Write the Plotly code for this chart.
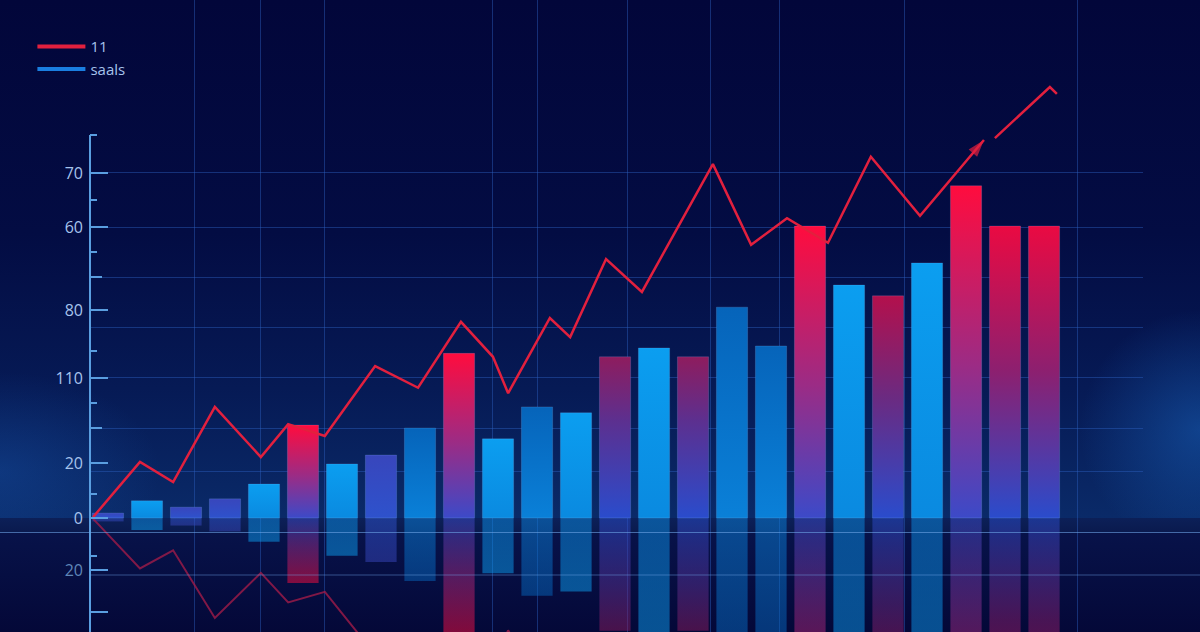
import plotly.graph_objects as go

# ---------------- data ----------------
PERIODS = list(range(1, 26))
SAALS = [1.0, 3.5, 2.2, 3.9, 6.9, 18.9, 11.0, 12.8, 18.3, 33.5, 16.1, 22.6, 21.4,
         32.8, 34.6, 32.8, 42.9, 35.0, 59.4, 47.4, 45.2, 51.9, 67.6, 59.4, 59.4]

LINE_X = [0.62, 1.82, 2.67, 3.74, 4.92, 5.62, 6.56, 7.85, 8.95, 10.05, 10.87, 11.26,
          12.33, 12.85, 13.77, 14.69, 16.51, 17.49, 18.41, 19.46, 20.56, 21.82, 23.46,
          None, 23.74, 25.15, 25.33]
LINE_Y = [0.2, 11.4, 7.3, 22.6, 12.4, 19.1, 16.7, 30.9, 26.5, 39.9, 32.8, 25.4,
          40.7, 36.8, 52.7, 46.0, 72.0, 55.6, 61.0, 56.0, 73.5, 61.5, 76.9,
          None, 77.3, 87.7, 86.3]

SERIES_NAMES = ["11", "saals"]

Y_TICK_VALUES = [70.2, 59.2, 42.3, 28.5, 11.2, 0.0, -10.6, -19.1]
Y_TICK_LABELS = ["70", "60", "80", "110", "20", "0", "20", ""]

# ---------------- styling ----------------
Y_GRID = [70.2, 59.2, 49.0, 38.7, 28.5, 18.3, 9.4]
Y_MED_TICKS = [49.0, 18.3]
Y_SHORT_TICKS = [64.7, 54.1, 34.0, 23.4, 4.9, -7.7]
X_GRID = [3.23, 4.90, 6.56, 10.87, 12.00, 14.33, 16.44, 18.21, 21.41, 25.85]
X_RANGE = [0.5385, 27.538]
Y_RANGE = [-23.2, 105.4]
BAR_W = 0.8
REFL = 0.7

TONES = ['violet', 'sky', 'violet', 'violet', 'sky', 'red', 'sky', 'violet', 'azure', 'red',
         'sky', 'azure', 'sky', 'magenta', 'sky', 'magenta', 'azure', 'azure', 'red', 'sky',
         'crimson', 'sky', 'red', 'red2', 'red2']
SCALES = {
    'violet': [[0, '#2e52cc'], [1, '#3846bc']],
    'sky': [[0, '#0a8ae0'], [1, '#0b9ef0']],
    'azure': [[0, '#0a80d8'], [1, '#0664ba']],
    'red': [[0, '#3c4ac8'], [0.45, '#9a2c86'], [1, '#ff0c3e']],
    'red2': [[0, '#2a4ccc'], [0.5, '#8c2070'], [1, '#ea0a42']],
    'magenta': [[0, '#2a4ccc'], [0.6, '#5c3090'], [1, '#8e1c5e']],
    'crimson': [[0, '#2a4ccc'], [0.55, '#6c2a80'], [1, '#b3104c']],
}
RED = '#e2203e'
BLUE = '#1a7ee0'
TICK_COL = '#5a9ee0'
GRID_COL = 'rgba(45,95,190,0.45)'
TXT_COL = '#a6c3ec'
FONT = 'Open Sans'

fig = go.Figure()

# ---------------- background (pixel-space subplot x/y) ----------------
def bg_rect(x0, x1, y0, y1, grad):
    fig.add_trace(go.Scatter(x=[x0, x1, x1, x0, x0], y=[y0, y0, y1, y1, y0], mode='lines',
                             line=dict(width=0), fill='toself', fillgradient=grad,
                             hoverinfo='skip', showlegend=False, xaxis='x', yaxis='y'))

bg_rect(0, 1200, 114, 632, dict(type='vertical', colorscale=[[0, '#0a2a68'], [0.25, '#061a55'],
                                                           [0.55, '#030c43'], [1, '#02063a']]))
bg_rect(1080, 1320, 82, 322, dict(type='radial', colorscale=[[0, 'rgba(25,100,190,0.5)'],
                                                             [1, 'rgba(25,100,190,0)']]))
bg_rect(-160, 160, 60, 260, dict(type='radial', colorscale=[[0, 'rgba(25,90,180,0.35)'],
                                                            [1, 'rgba(25,90,180,0)']]))
bg_rect(0, 1200, 0, 114, dict(type='vertical', colorscale=[[0, '#040838'], [1, '#08144c']]))
bg_rect(0, 1200, 100, 114, dict(type='vertical', colorscale=[[0, '#0a1a4e'], [1, '#0c2058']]))

# ---------------- legend entries ----------------
fig.add_trace(go.Scatter(x=[None], y=[None], mode='lines', name=SERIES_NAMES[0],
                         line=dict(color=RED, width=4), xaxis='x2', yaxis='y2'))
fig.add_trace(go.Scatter(x=[None], y=[None], mode='lines', name=SERIES_NAMES[1],
                         line=dict(color=BLUE, width=4), xaxis='x2', yaxis='y2'))

# ---------------- reflections ----------------
for p, v, tone in zip(PERIODS, SAALS, TONES):
    x0, x1 = p - BAR_W / 2, p + BAR_W / 2
    sc = [[round(1 - t, 4), c] for t, c in reversed(SCALES[tone])]
    fig.add_trace(go.Scatter(x=[x0, x1, x1, x0, x0], y=[0, 0, -REFL * v, -REFL * v, 0],
                             mode='lines', line=dict(width=0), fill='toself',
                             fillgradient=dict(type='vertical', colorscale=sc),
                             opacity=0.5, hoverinfo='skip', showlegend=False,
                             xaxis='x2', yaxis='y2'))

# ---------------- bars ----------------
for p, v, tone in zip(PERIODS, SAALS, TONES):
    x0, x1 = p - BAR_W / 2, p + BAR_W / 2
    fig.add_trace(go.Scatter(x=[x0, x1, x1, x0, x0], y=[0, 0, v, v, 0], mode='lines',
                             line=dict(width=1, color='rgba(150,200,255,0.18)'), fill='toself',
                             fillgradient=dict(type='vertical', colorscale=SCALES[tone]),
                             name=SERIES_NAMES[1], hovertemplate='%{y}<extra></extra>',
                             showlegend=False, xaxis='x2', yaxis='y2'))

# ---------------- line ----------------
arrow_sizes = [0] * len(LINE_X)
arrow_sizes[22] = 18
fig.add_trace(go.Scatter(x=LINE_X, y=LINE_Y, mode='lines+markers', name=SERIES_NAMES[0],
                         line=dict(color=RED, width=2.5),
                         marker=dict(symbol='arrow', size=arrow_sizes, angleref='previous',
                                     color=RED, line=dict(width=0)),
                         connectgaps=False, showlegend=False, xaxis='x2', yaxis='y2'))

# line reflection (on overlay axis y3)
refl_y = [None if y is None else -0.9 * y for y in LINE_Y]
fig.add_trace(go.Scatter(x=LINE_X, y=refl_y, mode='lines', line=dict(color='rgba(160,28,72,0.8)', width=2),
                         hoverinfo='skip', showlegend=False, xaxis='x2', yaxis='y3'))

# ---------------- shapes ----------------
ax_x = 90 / 1200
shapes = [
    dict(type='line', xref='paper', yref='paper', x0=ax_x, x1=ax_x, y0=0, y1=(632 - 135) / 632,
         line=dict(color=TICK_COL, width=2), layer='above'),
    dict(type='line', xref='paper', yref='paper', x0=ax_x, x1=ax_x + 7 / 1200,
         y0=(632 - 135) / 632, y1=(632 - 135) / 632, line=dict(color=TICK_COL, width=2), layer='above'),
    dict(type='line', xref='paper', yref='paper', x0=0, x1=1, y0=(632 - 532.5) / 632,
         y1=(632 - 532.5) / 632, line=dict(color='rgba(110,165,230,0.6)', width=1.2), layer='above'),
    dict(type='line', xref='paper', yref='paper', x0=ax_x, x1=1, y0=(632 - 575) / 632,
         y1=(632 - 575) / 632, line=dict(color='rgba(110,165,230,0.45)', width=1.2), layer='above'),
]

fig.update_layout(
    width=1200, height=632,
    margin=dict(l=0, r=0, t=0, b=0, pad=0, autoexpand=False),
    paper_bgcolor='#02063a', plot_bgcolor='rgba(0,0,0,0)',
    font=dict(family=FONT, color=TXT_COL, size=15),
    showlegend=True,
    legend=dict(x=0.027, y=0.952, xanchor='left', yanchor='top', bgcolor='rgba(0,0,0,0)',
                font=dict(family=FONT, size=15, color=TXT_COL), tracegroupgap=0,
                itemwidth=48, itemclick=False, itemdoubleclick=False),
    shapes=shapes,
    xaxis=dict(domain=[0, 1], range=[0, 1200], visible=False, fixedrange=True, automargin=False),
    yaxis=dict(domain=[0, 1], range=[0, 632], visible=False, fixedrange=True, automargin=False),
    xaxis2=dict(domain=[90 / 1200, 1143 / 1200], anchor='y2', range=X_RANGE,
                tickmode='array', tickvals=X_GRID, showticklabels=False, ticks='',
                showgrid=True, gridcolor=GRID_COL, gridwidth=1, zeroline=False, showline=False,
                fixedrange=True, automargin=False),
    yaxis2=dict(domain=[0, 1], anchor='x2', range=Y_RANGE, tickmode='array',
                tickvals=Y_TICK_VALUES,
                ticktext=[t if v >= 0 else '<span style="color:#5f86b8">%s</span>' % t
                          for t, v in zip(Y_TICK_LABELS, Y_TICK_VALUES)],
                ticks='inside', ticklen=18, tickwidth=2, tickcolor=TICK_COL,
                ticklabelstandoff=6, tickfont=dict(family=FONT, size=16, color=TXT_COL),
                showgrid=False, zeroline=False, showline=False, automargin=False,
                minor=dict(tickmode='array', tickvals=Y_GRID, showgrid=True, gridcolor=GRID_COL,
                           gridwidth=1, ticks=''),
                fixedrange=True),
    yaxis3=dict(overlaying='y2', anchor='x2', range=Y_RANGE, tickmode='array',
                tickvals=Y_MED_TICKS, ticks='inside', ticklen=12, tickwidth=2, tickcolor=TICK_COL,
                showticklabels=False, showgrid=False, zeroline=False, showline=False,
                automargin=False,
                minor=dict(tickmode='array', tickvals=Y_SHORT_TICKS, ticks='inside', ticklen=7,
                           tickwidth=2, tickcolor=TICK_COL, showgrid=False),
                fixedrange=True),
)

fig.write_html("out.html", config={'displayModeBar': False},
               post_script="document.body.style.margin='0';document.body.style.overflow='hidden';")
